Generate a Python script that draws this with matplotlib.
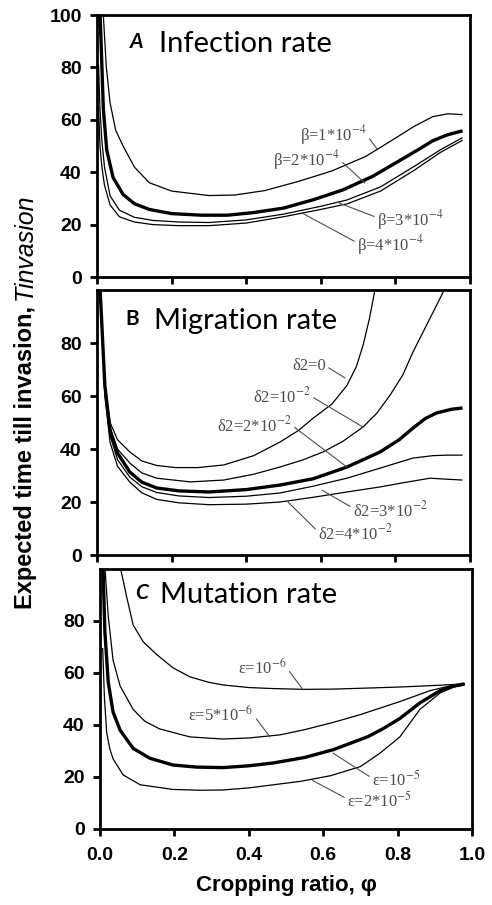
import matplotlib
matplotlib.use("Agg")
import matplotlib.pyplot as plt

plt.rcParams["mathtext.fontset"] = "stix"
plt.rcParams["font.family"] = ["Liberation Sans", "DejaVu Sans"]

# ---- panel A: infection rate ----
phi_b1 = [0.016, 0.025, 0.035, 0.05, 0.07, 0.1, 0.14, 0.2, 0.3, 0.37, 0.45, 0.54, 0.63, 0.72, 0.8, 0.85, 0.9, 0.94, 0.98]
t_b1 = [102, 80, 66.5, 56, 50, 42, 36, 32.8, 31.1, 31.3, 33, 36.5, 40.5, 46, 53, 57.5, 61.2, 62.3, 62]
phi_b2 = [0.008, 0.011, 0.017, 0.026, 0.043, 0.07, 0.1, 0.14, 0.2, 0.28, 0.35, 0.42, 0.5, 0.58, 0.66, 0.74, 0.8, 0.86, 0.9, 0.94, 0.98]
t_b2 = [101, 89, 64, 48.5, 38, 31.5, 28, 25.8, 24.2, 23.6, 23.6, 24.6, 26.3, 29.5, 33.3, 38.5, 43.5, 48.5, 52, 54.3, 55.8]
phi_b3 = [0.004, 0.008, 0.013, 0.02, 0.035, 0.06, 0.1, 0.15, 0.22, 0.3, 0.4, 0.5, 0.6, 0.67, 0.76, 0.85, 0.92, 0.98]
t_b3 = [81, 64, 52, 42, 31, 25.5, 22.8, 21.6, 21, 20.8, 21.8, 24, 27, 29.4, 34.4, 42.2, 48.5, 53.2]
phi_b4 = [0.004, 0.008, 0.013, 0.02, 0.035, 0.06, 0.1, 0.15, 0.22, 0.3, 0.4, 0.5, 0.6, 0.67, 0.76, 0.85, 0.92, 0.98]
t_b4 = [65, 50, 42, 35, 27.5, 23, 21, 20, 19.6, 19.6, 20.6, 23, 25.8, 27.9, 32.8, 40.7, 47.5, 52.2]

# ---- panel B: migration rate ----
phi_d0 = [0.008, 0.021, 0.035, 0.055, 0.088, 0.12, 0.16, 0.21, 0.27, 0.34, 0.42, 0.49, 0.54, 0.58, 0.63, 0.67, 0.695, 0.713, 0.73, 0.745, 0.75]
t_d0 = [101, 64, 50, 43.5, 38.9, 35.5, 33.8, 33, 33, 34, 37.5, 42.6, 47, 51.7, 57, 64, 71, 79, 89, 100, 104]
phi_d1 = [0.008, 0.021, 0.035, 0.055, 0.088, 0.12, 0.16, 0.25, 0.34, 0.42, 0.49, 0.55, 0.606, 0.66, 0.713, 0.75, 0.786, 0.82, 0.847, 0.87, 0.893, 0.928, 0.935]
t_d1 = [101, 64, 48, 40, 34.7, 31, 29, 27.6, 28.3, 30.5, 33.2, 35.8, 38.9, 43, 48.3, 53.5, 60.4, 68, 76.6, 83, 89.4, 99.2, 102]
phi_d2 = [0.008, 0.021, 0.035, 0.055, 0.088, 0.12, 0.16, 0.22, 0.3, 0.4, 0.49, 0.58, 0.67, 0.759, 0.81, 0.847, 0.88, 0.91, 0.95, 0.98]
t_d2 = [101, 64, 47, 38.5, 31.3, 27.5, 25.3, 24.2, 23.8, 24.7, 26.4, 28.8, 33.2, 38.9, 43.5, 47.9, 51.5, 53.6, 55, 55.5]
phi_d3 = [0.008, 0.021, 0.035, 0.055, 0.088, 0.12, 0.16, 0.22, 0.3, 0.4, 0.49, 0.58, 0.67, 0.759, 0.847, 0.9, 0.938, 0.98]
t_d3 = [101, 62, 45, 36, 29.4, 25.8, 23.6, 22.3, 21.7, 22.2, 23.4, 26, 29, 32.8, 36.6, 37.5, 37.7, 37.7]
phi_d4 = [0.008, 0.021, 0.035, 0.055, 0.088, 0.12, 0.16, 0.22, 0.3, 0.4, 0.49, 0.58, 0.67, 0.759, 0.83, 0.893, 0.94, 0.98]
t_d4 = [101, 60, 42.5, 33.5, 27.5, 23.5, 21, 19.7, 19, 19.2, 20, 21.8, 23.8, 25.7, 27.5, 29, 28.6, 28.3]

# ---- panel C: mutation rate ----
phi_e1 = [0.054, 0.072, 0.089, 0.116, 0.153, 0.196, 0.242, 0.29, 0.33, 0.4, 0.466, 0.55, 0.627, 0.72, 0.806, 0.9, 0.98]
t_e1 = [101, 89, 78.5, 72, 67, 62, 58.5, 56.5, 55.4, 54.4, 54, 53.7, 53.8, 54.2, 54.6, 55.2, 55.8]
phi_e5 = [0.013, 0.022, 0.035, 0.054, 0.089, 0.12, 0.16, 0.242, 0.33, 0.4, 0.484, 0.55, 0.627, 0.7, 0.753, 0.806, 0.887, 0.94, 0.98]
t_e5 = [101, 82, 65, 55, 46, 41.5, 38.5, 35.4, 34.6, 35, 36.2, 38.2, 41, 44, 46.5, 49, 53.2, 55, 55.8]
phi_e10 = [0.008, 0.013, 0.022, 0.035, 0.054, 0.089, 0.134, 0.196, 0.26, 0.33, 0.4, 0.466, 0.55, 0.627, 0.72, 0.76, 0.806, 0.86, 0.914, 0.95, 0.98]
t_e10 = [101, 76, 56.5, 45, 38, 31, 27.2, 24.6, 23.8, 23.6, 24.3, 25.4, 27.5, 30.5, 35.5, 38.5, 42.5, 48.5, 53.2, 55, 55.8]
phi_e20 = [0.007, 0.012, 0.018, 0.026, 0.035, 0.062, 0.108, 0.196, 0.27, 0.33, 0.4, 0.466, 0.538, 0.62, 0.7, 0.753, 0.806, 0.86, 0.914, 0.95, 0.98]
t_e20 = [69.6, 50, 37, 31, 27, 20.8, 17, 15.2, 14.9, 15, 15.8, 17, 18.3, 20.5, 24, 29.2, 35.4, 46, 52.3, 54.5, 55.4]

# curve labels: (text, curve point, text point)
labels_a = [("β=1*10$^{-4}$", (0.75, 49), (0.544, 54.2)),
            ("β=2*10$^{-4}$", (0.718, 35.9), (0.472, 44.7)),
            ("β=3*10$^{-4}$", (0.643, 28.6), (0.75, 21.8)),
            ("β=4*10$^{-4}$", (0.55, 24.4), (0.697, 12.2))]
labels_b = [("δ2=0", (0.665, 66.8), (0.523, 71.3)),
            ("δ2=10$^{-2}$", (0.713, 48.3), (0.418, 60)),
            ("δ2=2*10$^{-2}$", (0.67, 33.2), (0.322, 49)),
            ("δ2=3*10$^{-2}$", (0.603, 24.5), (0.686, 17)),
            ("δ2=4*10$^{-2}$", (0.512, 20), (0.593, 8))]
labels_c = [("ε=10$^{-6}$", (0.546, 53.5), (0.371, 62)),
            ("ε=5*10$^{-6}$", (0.457, 35.4), (0.237, 43.8)),
            ("ε=10$^{-5}$", (0.626, 29.2), (0.731, 18.8)),
            ("ε=2*10$^{-5}$", (0.57, 18.8), (0.664, 10.8))]

GRAY = "#4d4d4d"

fig = plt.figure(figsize=(4.92, 9.05), dpi=100)
ax_a = fig.add_axes([0.1972, 0.6939, 0.7581, 0.2895])
ax_b = fig.add_axes([0.1972, 0.3867, 0.7581, 0.2928])
ax_c = fig.add_axes([0.2033, 0.0840, 0.7561, 0.2873])

panels = [
    (ax_a, [(phi_b1, t_b1), (phi_b2, t_b2), (phi_b3, t_b3), (phi_b4, t_b4)], 1, labels_a,
     "A", "Infection rate", (0.088, 0.874), (0.166, 0.859), [0, 20, 40, 60, 80, 100]),
    (ax_b, [(phi_d0, t_d0), (phi_d1, t_d1), (phi_d2, t_d2), (phi_d3, t_d3), (phi_d4, t_d4)], 2, labels_b,
     "B", "Migration rate", (0.075, 0.868), (0.153, 0.853), [0, 20, 40, 60, 80]),
    (ax_c, [(phi_e1, t_e1), (phi_e5, t_e5), (phi_e10, t_e10), (phi_e20, t_e20)], 2, labels_c,
     "C", "Mutation rate", (0.094, 0.885), (0.161, 0.869), [0, 20, 40, 60, 80]),
]

for ax, curves, thick, labels, letter, title, letter_pos, title_pos, yticks in panels:
    for i, (x, y) in enumerate(curves):
        ax.plot(x, y, color="black", lw=2.4 if i == thick else 0.9, solid_capstyle="butt")
    for text, xy, xytext in labels:
        below = xytext[1] < xy[1]
        ax.annotate(text, xy=xy, xytext=xytext, ha="left", va="center",
                    fontsize=12, color=GRAY, family=["Liberation Serif", "DejaVu Serif"],
                    arrowprops=dict(arrowstyle="-", color=GRAY, lw=0.8,
                                    relpos=(0, 0.6) if below else (1, 0.5),
                                    shrinkA=0, shrinkB=0))
    style = "normal" if letter == "B" else "italic"
    ax.text(*letter_pos, letter, transform=ax.transAxes, fontsize=15,
            fontweight="bold", style=style, family="Lato", va="baseline")
    ax.text(*title_pos, title, transform=ax.transAxes, fontsize=21,
            family="Lato", va="baseline")
    ax.set_xlim(0, 1)
    ax.set_ylim(0, 100)
    ax.set_yticks(yticks)
    ax.set_xticks([0, 0.2, 0.4, 0.6, 0.8, 1.0])
    for s in ax.spines.values():
        s.set_linewidth(2)
    ax.tick_params(direction="out", length=5, width=2, labelsize=14)
    ax.tick_params(axis="y", pad=6)
    ax.tick_params(axis="x", pad=8)
    for lab in ax.get_yticklabels() + ax.get_xticklabels():
        lab.set_fontweight("bold")
    if ax is not ax_c:
        ax.tick_params(labelbottom=False)

ax_c.set_xticklabels(["0.0", "0.2", "0.4", "0.6", "0.8", "1.0"], fontweight="bold")
ax_c.set_xlabel("Cropping ratio, φ", fontsize=16, fontweight="bold", labelpad=8)

fig.text(0.065, 0.669, "Expected time till invasion, ", rotation=90,
         rotation_mode="anchor", ha="right", va="baseline", fontsize=17, fontweight="bold")
fig.text(0.065, 0.669, "Tinvasion", rotation=90, rotation_mode="anchor",
         ha="left", va="baseline", fontsize=18, style="italic")

fig.savefig("out.png", dpi=100)
